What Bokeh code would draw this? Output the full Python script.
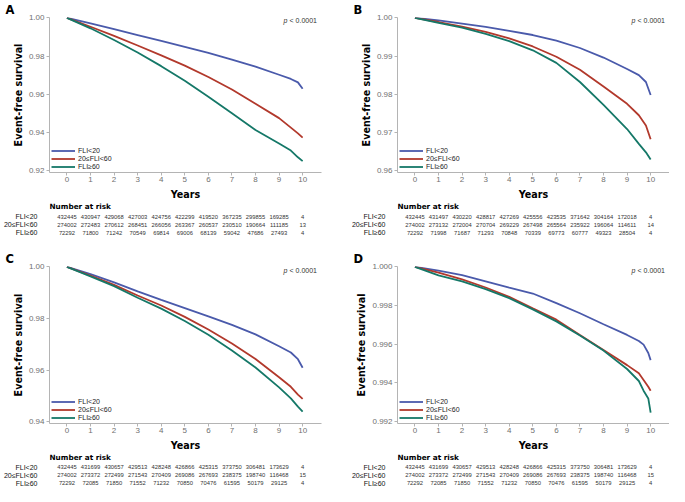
from bokeh.plotting import figure
from bokeh.layouts import column, row
from bokeh.models import (Range1d, FixedTicker, Legend, LegendItem, Label,
                          PrintfTickFormatter)
from bokeh.core.properties import value
from bokeh.embed import file_html
from bokeh.resources import INLINE

# ---------------- data ----------------
groups = ["FLI<20", "20≤FLI<60", "FLI≥60"]
colors = ["#4a5aab", "#b2392c", "#157868"]
x_ticks = [0, 1, 2, 3, 4, 5, 6, 7, 8, 9, 10]
risk_years = [0, 1, 2, 3, 4, 5, 6, 7, 8, 9, 10]

t_grid = [0, 1, 2, 3, 4, 5, 6, 7, 8, 9, 9.5, 9.8, 10]
t_grid_d = [0, 1, 2, 3, 4, 5, 6, 7, 8, 9, 9.5, 9.7, 9.9, 10]

# Panel A
A_yticks = [0.92, 0.94, 0.96, 0.98, 1.00]
A_lt20 = [1.0, 0.9971, 0.9941, 0.9910, 0.9879, 0.9848, 0.9816, 0.9781, 0.9744, 0.9702, 0.9680, 0.9662, 0.9629]
A_mid = [1.0, 0.9953, 0.9905, 0.9855, 0.9803, 0.9750, 0.9690, 0.9625, 0.9550, 0.9475, 0.9425, 0.9395, 0.9373]
A_ge60 = [1.0, 0.9945, 0.9884, 0.9818, 0.9747, 0.9670, 0.9587, 0.9500, 0.9413, 0.9342, 0.9305, 0.9270, 0.9250]
A_risk_lt20 = [432445, 430947, 429068, 427003, 424756, 422299, 419520, 367235, 299855, 169285, 4]
A_risk_mid = [274002, 272483, 270612, 268451, 266056, 263367, 260537, 230510, 190664, 111185, 13]
A_risk_ge60 = [72292, 71800, 71242, 70549, 69814, 69006, 68139, 59042, 47686, 27493, 4]

# Panel B
B_yticks = [0.96, 0.97, 0.98, 0.99, 1.00]
B_lt20 = [1.0, 0.9993, 0.9985, 0.9976, 0.9966, 0.9955, 0.9940, 0.9921, 0.9896, 0.9866, 0.9850, 0.9832, 0.9798]
B_mid = [1.0, 0.9989, 0.9977, 0.9963, 0.9946, 0.9925, 0.9898, 0.9864, 0.9820, 0.9775, 0.9745, 0.9718, 0.9682]
B_ge60 = [1.0, 0.9987, 0.9974, 0.9958, 0.9939, 0.9915, 0.9882, 0.9832, 0.9772, 0.9709, 0.9670, 0.9648, 0.9629]
B_risk_lt20 = [432445, 431497, 430220, 428817, 427269, 425556, 423535, 371642, 304164, 172018, 4]
B_risk_mid = [274002, 273132, 272004, 270704, 269229, 267498, 265564, 235922, 196064, 114611, 14]
B_risk_ge60 = [72292, 71998, 71687, 71293, 70848, 70339, 69773, 60777, 49323, 28504, 4]

# Panel C
C_yticks = [0.94, 0.96, 0.98, 1.00]
C_lt20 = [1.0, 0.9972, 0.9940, 0.9905, 0.9872, 0.9840, 0.9808, 0.9775, 0.9738, 0.9692, 0.9668, 0.9642, 0.9609]
C_mid = [1.0, 0.9966, 0.9930, 0.9889, 0.9850, 0.9806, 0.9757, 0.9703, 0.9643, 0.9572, 0.9535, 0.9505, 0.9488]
C_ge60 = [1.0, 0.9963, 0.9925, 0.9880, 0.9838, 0.9790, 0.9737, 0.9676, 0.9610, 0.9533, 0.9490, 0.9458, 0.9439]
C_risk_lt20 = [432445, 431699, 430657, 429513, 428248, 426866, 425315, 373750, 306481, 173629, 4]
C_risk_mid = [274002, 273372, 272499, 271543, 270409, 269086, 267693, 238375, 198740, 116468, 15]
C_risk_ge60 = [72292, 72085, 71850, 71552, 71232, 70850, 70476, 61595, 50179, 29125, 4]

# Panel D
D_yticks = [0.992, 0.994, 0.996, 0.998, 1.000]
D_lt20 = [1.0, 0.99980, 0.99957, 0.99925, 0.99893, 0.99862, 0.99812, 0.99760, 0.99703, 0.99648, 0.99617, 0.99598, 0.99555, 0.99518]
D_mid = [1.0, 0.99970, 0.99935, 0.99893, 0.99845, 0.99785, 0.99727, 0.99648, 0.99570, 0.99492, 0.99450, 0.99415, 0.99380, 0.99360]
D_ge60 = [1.0, 0.99956, 0.99925, 0.99885, 0.99838, 0.99780, 0.99718, 0.99645, 0.99567, 0.99472, 0.99410, 0.99360, 0.99320, 0.99247]
D_risk_lt20 = [432445, 431699, 430657, 429513, 428248, 426866, 425315, 373750, 306481, 173629, 4]
D_risk_mid = [274002, 273372, 272499, 271543, 270409, 269086, 267693, 238375, 198740, 116468, 15]
D_risk_ge60 = [72292, 72085, 71850, 71552, 71232, 70850, 70476, 61595, 50179, 29125, 4]

panels = [
    dict(letter="A", t=t_grid, curves=[A_lt20, A_mid, A_ge60], yticks=A_yticks, fmt="%.2f",
         risk=[A_risk_lt20, A_risk_mid, A_risk_ge60]),
    dict(letter="B", t=t_grid, curves=[B_lt20, B_mid, B_ge60], yticks=B_yticks, fmt="%.2f",
         risk=[B_risk_lt20, B_risk_mid, B_risk_ge60]),
    dict(letter="C", t=t_grid, curves=[C_lt20, C_mid, C_ge60], yticks=C_yticks, fmt="%.2f",
         risk=[C_risk_lt20, C_risk_mid, C_risk_ge60]),
    dict(letter="D", t=t_grid_d, curves=[D_lt20, D_mid, D_ge60], yticks=D_yticks, fmt="%.3f",
         risk=[D_risk_lt20, D_risk_mid, D_risk_ge60]),
]

# ---------------- styling ----------------
BOLD = "DejaVu Sans"
REG = "Liberation Sans"
AX = "#b4b4b4"
TICKLAB = "#707070"
X0, X1 = -0.74, 10.8


def km_figure(pd, width, right_border, km_h, top_border, bottom_border, p_off):
    lo, hi = min(pd["yticks"]), max(pd["yticks"])
    span = hi - lo
    p = figure(width=width, height=km_h, output_backend="svg", toolbar_location=None, tools="",
               x_range=Range1d(X0, X1), y_range=Range1d(lo - span * 0.012, hi + span * 0.002),
               min_border_left=46, min_border_right=right_border,
               min_border_top=top_border, min_border_bottom=bottom_border,
               title=pd["letter"])
    p.title.align = "left"
    p.title.offset = -44
    p.title.standoff = 1
    p.title.text_font = BOLD
    p.title.text_font_style = "bold"
    p.title.text_font_size = "11.5px"
    p.title.text_color = "black"
    p.outline_line_color = None
    p.grid.visible = False
    p.background_fill_color = "white"
    p.border_fill_color = "white"

    rends = []
    for vals, c in zip(pd["curves"], colors):
        rends.append(p.line(pd["t"], vals, line_color=c, line_width=1.8))

    for ax in (p.xaxis[0], p.yaxis[0]):
        ax.axis_line_color = AX
        ax.major_tick_line_color = AX
        ax.minor_tick_line_color = None
        ax.major_tick_out = 3
        ax.major_tick_in = 0
        ax.major_label_text_font = REG
        ax.major_label_text_font_size = "8px"
        ax.major_label_text_color = TICKLAB
        ax.axis_label_text_font = BOLD
        ax.axis_label_text_font_style = "bold"
        ax.axis_label_text_font_size = "9.6px"
        ax.axis_label_text_color = "black"

    p.xaxis.ticker = FixedTicker(ticks=x_ticks)
    p.xaxis.major_label_standoff = 1
    p.xaxis.axis_label = "Years"
    p.xaxis.axis_label_standoff = 4

    p.yaxis.ticker = FixedTicker(ticks=pd["yticks"])
    p.yaxis.formatter = PrintfTickFormatter(format=pd["fmt"])
    p.yaxis.major_label_standoff = 2
    p.yaxis.axis_label = "Event-free survival"
    p.yaxis.axis_label_standoff = 2

    legend = Legend(items=[LegendItem(label=g, renderers=[r]) for g, r in zip(groups, rends)],
                    location="bottom_left", border_line_color=None, background_fill_alpha=0,
                    label_text_font=REG, label_text_font_size="7px", label_text_color="#222",
                    glyph_width=24, glyph_height=7, label_height=7, spacing=1,
                    padding=1, margin=2, label_standoff=3)
    p.add_layout(legend)

    p.add_layout(Label(x=9.19, y=hi + span * 0.002, y_offset=p_off, text="p",
                       text_font=REG, text_font_style="italic", text_font_size="7px",
                       text_color="#333", text_baseline="middle", text_align="left"))
    p.add_layout(Label(x=9.19, y=hi + span * 0.002, x_offset=6, y_offset=p_off, text="< 0.0001",
                       text_font=REG, text_font_size="7px",
                       text_color="#333", text_baseline="middle", text_align="left"))
    return p


def risk_figure(pd, width, right_border, h, y_top, y_bottom, header_y, x_range):
    r = figure(width=width, height=h, output_backend="svg", toolbar_location=None, tools="",
               x_range=x_range, y_range=Range1d(y_bottom, y_top),
               x_axis_location=None,
               min_border_left=46, min_border_right=right_border,
               min_border_top=0, min_border_bottom=0)
    r.outline_line_color = None
    r.grid.visible = False
    r.yaxis.ticker = FixedTicker(ticks=[1, 2, 3])
    r.yaxis.major_label_overrides = {1: groups[0], 2: groups[1], 3: groups[2]}
    r.yaxis.axis_line_color = None
    r.yaxis.major_tick_line_color = None
    r.yaxis.minor_tick_line_color = None
    r.yaxis.major_label_text_font = REG
    r.yaxis.major_label_text_font_size = "7px"
    r.yaxis.major_label_text_color = "#111"
    r.yaxis.major_label_standoff = 6
    for i, counts in enumerate(pd["risk"]):
        r.text(x=risk_years, y=[i + 1] * len(risk_years), text=[str(n) for n in counts],
               text_align="center", text_baseline="middle", text_font=value(REG),
               text_font_size="5.8px", text_color="#333")
    r.text(x=[X0], y=[header_y], text=["Number at risk"], text_align="left",
           text_baseline="middle", text_font=value(BOLD), text_font_style="bold",
           text_font_size="7.3px", text_color="black")
    return r


cols = []
specs = [
    # width, right border, km_h, top, bottom, p_off, risk_h, y_top, y_bottom, header_y
    (348, 27, 202, 13, 27, -2.5, 40, -0.75, 4.25, -0.25),
    (321, 0, 202, 13, 27, -2.5, 40, -0.75, 4.25, -0.25),
    (348, 27, 211, 24, 25, -3.5, 33, -0.6875, 3.4375, -0.19),
    (321, 0, 211, 24, 25, -3.5, 33, -0.6875, 3.4375, -0.19),
]
for pd, s in zip(panels, specs):
    w, rb, kh, tb, bb, po, rh, yt, yb, hy = s
    km = km_figure(pd, w, rb, kh, tb, bb, po)
    rk = risk_figure(pd, w, rb, rh, yt, yb, hy, km.x_range)
    cols.append(column(km, rk, spacing=0))

layout = column(row(cols[0], cols[1], spacing=0), row(cols[2], cols[3], spacing=0), spacing=0)

open("out.html", "w").write(file_html(layout, INLINE))
